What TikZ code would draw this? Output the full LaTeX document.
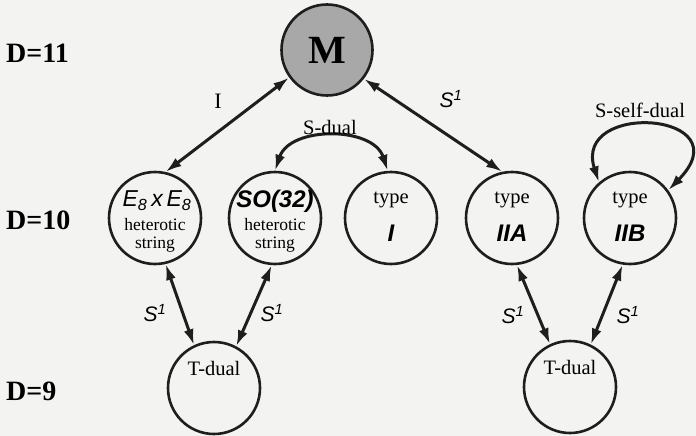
\documentclass[tikz,border=0pt]{standalone}
\usepackage{fontspec}
\setmainfont{Liberation Serif}
\setsansfont{Liberation Sans}
\usetikzlibrary{arrows.meta}
\definecolor{paper}{RGB}{243,243,241}
\definecolor{mfill}{RGB}{168,168,168}
\definecolor{ink}{RGB}{30,30,30}
\begin{document}
\begin{tikzpicture}[x=1pt,y=-1pt,
  circ/.style={circle,draw=ink,line width=2.6pt,minimum size=92pt,inner sep=0pt},
  conn/.style={draw=ink,line width=3pt,{Latex[length=16pt,width=10pt]}-{Latex[length=16pt,width=10pt]}},
  serif/.style={inner sep=0pt,font=\fontsize{20.5}{22}\selectfont},
  small/.style={inner sep=0pt,anchor=base,font=\fontsize{17.5}{19}\selectfont},
  dlab/.style={inner sep=0pt,anchor=west,font=\fontsize{28}{30}\selectfont\bfseries},
  slab/.style={inner sep=0pt,font=\fontsize{21}{23}\selectfont\sffamily\itshape},
  sansbig/.style={inner sep=0pt,font=\fontsize{23}{25}\selectfont\sffamily\itshape},
  sansbold/.style={inner sep=0pt,font=\fontsize{24}{26}\selectfont\sffamily\bfseries\itshape}
]
\useasboundingbox (0,0) rectangle (696,436);
\fill[paper] (0,0) rectangle (696,436);

% dimension labels
\node[dlab] (d11) at (6,53) {D=11};
\node[dlab] (d10) at (6,220) {D=10};
\node[dlab] (d9) at (6,391) {D=9};

% circles
\node[circ,fill=mfill,minimum size=91pt] (M) at (327,50) {};
\node[inner sep=0pt,font=\fontsize{40}{42}\selectfont\bfseries] (Mt) at (M) {M};
\node[circ] (E8) at (155,218) {};
\node[circ] (SO) at (275,218) {};
\node[circ] (tI) at (391,218) {};
\node[circ] (IIA) at (512,218) {};
\node[circ] (IIB) at (630,218) {};
\node[circ] (TL) at (214,388) {};
\node[circ] (TR) at (570,387) {};

% texts in circles
\node[sansbig] (E8a) at (157,201) {E\textsubscript{8}\,x\,E\textsubscript{8}};
\node[small] (E8b) at (155,230) {heterotic};
\node[small] (E8c) at (155,248) {string};
\node[sansbold] (SOa) at (275,201) {SO(32)};
\node[small] (SOb) at (275,230) {heterotic};
\node[small] (SOc) at (275,248) {string};
\node[serif] (tIa) at (391,200) {type};
\node[sansbold] (tIb) at (391,233) {I};
\node[serif] (IIAa) at (512,200) {type};
\node[sansbold] (IIAb) at (512,233) {IIA};
\node[serif] (IIBa) at (630,200) {type};
\node[sansbold] (IIBb) at (630,233) {IIB};
\node[serif] (TLa) at (214,368) {T-dual};
\node[serif] (TRa) at (570,367) {T-dual};

% connectors
\draw[conn] (M.216) -- (E8.77);
\draw[conn] (M.322) -- (IIA.102);
\draw[conn] (SO.90) .. controls (290,126) and (373,126) .. (tI.94);
\draw[conn] (IIB.131) .. controls (572,100) and (745,112) .. (IIB.36);
\draw[conn] (E8.283) -- (TL.115);
\draw[conn] (SO.266) -- (TL.62);
\draw[conn] (IIA.276) -- (TR.115);
\draw[conn] (IIB.261) -- (TR.64);

% connector labels
\node[inner sep=0pt,font=\fontsize{22}{24}\selectfont] (lI) at (218,101) {I};
\node[slab] (lS1) at (451,99) {S\textsuperscript{1}};
\node[serif] (lsd) at (330,127) {S-dual};
\node[serif] (lssd) at (640,110) {S-self-dual};
\node[slab] (lS2) at (155,313) {S\textsuperscript{1}};
\node[slab] (lS3) at (272,313) {S\textsuperscript{1}};
\node[slab] (lS4) at (513,315) {S\textsuperscript{1}};
\node[slab] (lS5) at (628,315) {S\textsuperscript{1}};
\end{tikzpicture}
\end{document}
